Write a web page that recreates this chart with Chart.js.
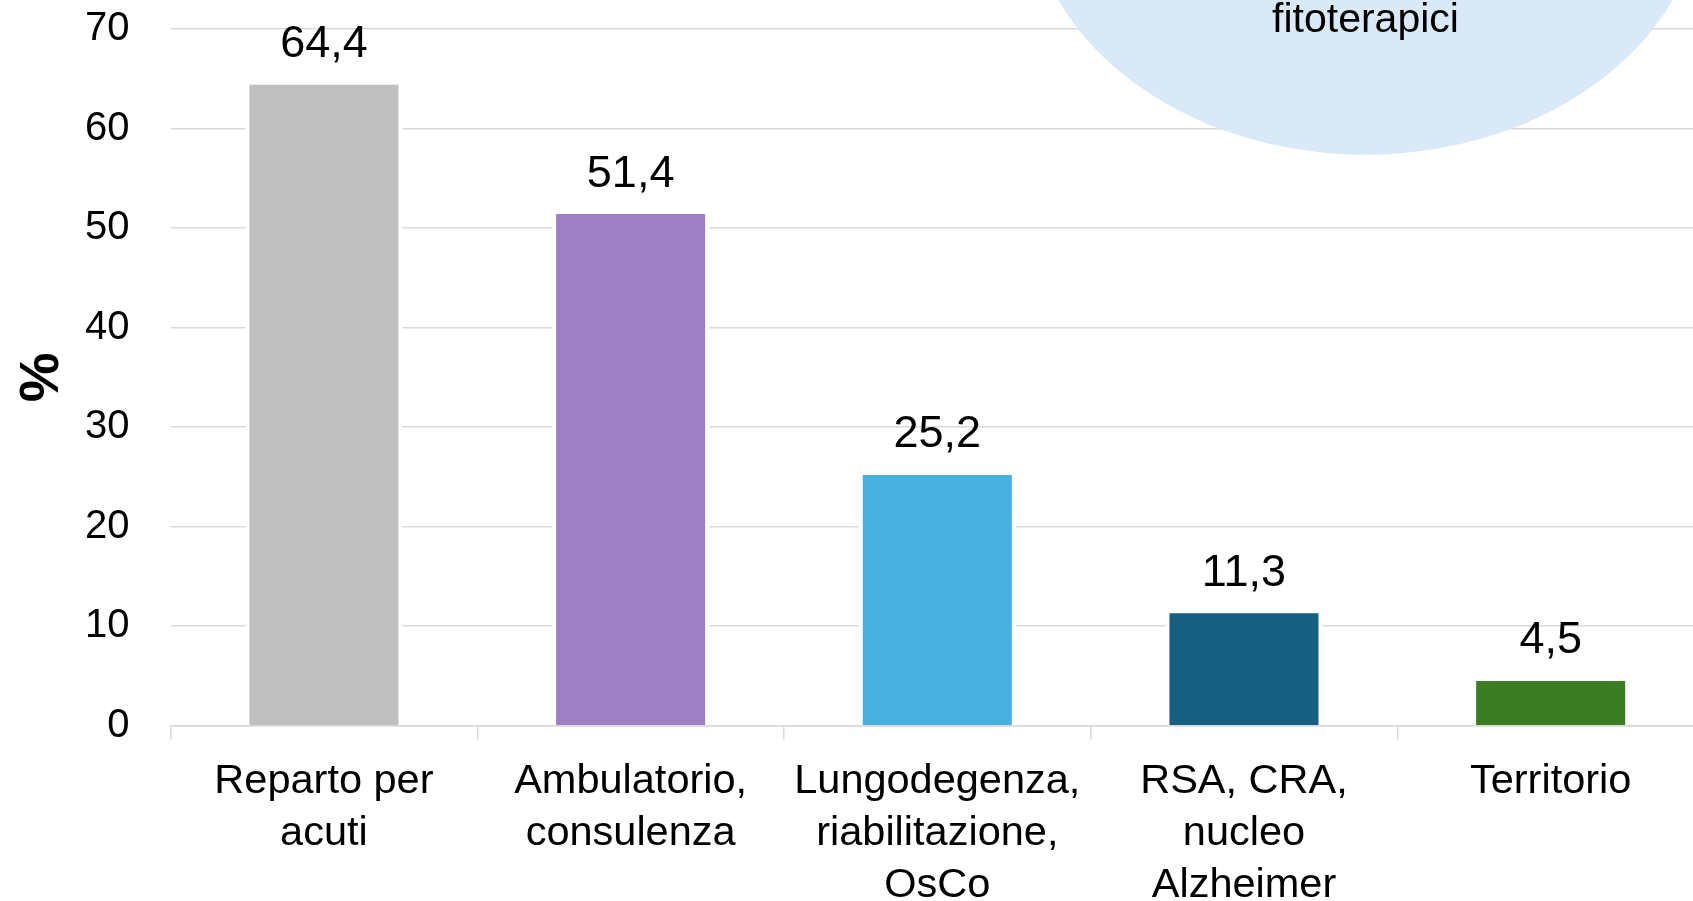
<!DOCTYPE html>
<html>
<head>
<meta charset="utf-8">
<script src="https://cdn.jsdelivr.net/npm/chart.js@4"></script>
<style>
  html, body { margin: 0; padding: 0; overflow: hidden; background: #ffffff; }
  #wrap { position: absolute; left: 0; top: -35.7px; width: 1704px; height: 1000px; }
</style>
</head>
<body>
<div id="wrap"><canvas id="c" width="1704" height="1000"></canvas></div>
<script>
const categories = [
  ["Reparto per", "acuti"],
  ["Ambulatorio,", "consulenza"],
  ["Lungodegenza,", "riabilitazione,", "OsCo"],
  ["RSA, CRA,", "nucleo", "Alzheimer"],
  ["Territorio"]
];
const values = [64.4, 51.4, 25.2, 11.3, 4.5];
const barColors = ["#BFBFBF", "#A080C4", "#47B0E0", "#175F82", "#3B7D23"];
const yAxisTitle = "%";
const calloutText = "fitoterapici";
const yMin = 0, yMax = 70, yStep = 10;

const FONT = "'Liberation Sans', Arial, sans-serif";
const SHIFT = 35.7;      // canvas is shifted up by this amount on the page
const CANVAS_H = 1000;
const AXIS_Y = 726;      // page y of the zero line

const haloPlugin = {
  id: 'halo',
  beforeDatasetsDraw(chart) {
    const ctx = chart.ctx;
    const meta = chart.getDatasetMeta(0);
    ctx.save();
    ctx.fillStyle = '#ffffff';
    meta.data.forEach(el => {
      const p = el.getProps(['x', 'y', 'base', 'width'], true);
      const pad = 4;
      ctx.fillRect(p.x - p.width / 2 - pad, p.y - pad, p.width + 2 * pad, p.base - p.y + pad - 1);
    });
    ctx.restore();
  }
};

const labelPlugin = {
  id: 'valueLabels',
  afterDatasetsDraw(chart) {
    const ctx = chart.ctx;
    const meta = chart.getDatasetMeta(0);
    ctx.save();
    ctx.fillStyle = '#000000';
    ctx.font = "45px " + FONT;
    ctx.textAlign = 'center';
    ctx.textBaseline = 'middle';
    meta.data.forEach((el, i) => {
      const p = el.getProps(['x', 'y'], true);
      ctx.fillText(values[i].toFixed(1).replace('.', ','), p.x, p.y - 40);
    });
    ctx.restore();
  }
};

const calloutPlugin = {
  id: 'callout',
  afterDraw(chart) {
    const ctx = chart.ctx;
    ctx.save();
    ctx.fillStyle = '#DAE9F7';
    ctx.beginPath();
    ctx.ellipse(1365.5, -110 + SHIFT, 338, 265, 0, 0, Math.PI * 2);
    ctx.fill();
    ctx.fillStyle = '#000000';
    ctx.font = "41px " + FONT;
    ctx.textAlign = 'center';
    ctx.textBaseline = 'alphabetic';
    ctx.fillText(calloutText, 1365.5, 32 + SHIFT);
    ctx.restore();
  }
};

new Chart(document.getElementById('c'), {
  type: 'bar',
  data: {
    labels: categories,
    datasets: [{
      data: values,
      backgroundColor: barColors,
      borderWidth: 0,
      barPercentage: 0.486,
      categoryPercentage: 1.0
    }]
  },
  options: {
    responsive: false,
    animation: false,
    devicePixelRatio: 1,
    layout: { padding: { top: 0, right: 0, left: 0, bottom: 0 } },
    plugins: { legend: { display: false }, tooltip: { enabled: false } },
    scales: {
      x: {
        offset: true,
        grid: { offset: true, drawOnChartArea: false, drawTicks: true, tickLength: 14, color: '#D9D9D9', lineWidth: 1.5 },
        border: { display: true, color: '#D9D9D9', width: 1.5 },
        ticks: { color: '#000000', font: { family: FONT, size: 41.5, lineHeight: 1.25 }, padding: 16, maxRotation: 0, autoSkip: false },
        afterFit(scale) { scale.height = CANVAS_H - (AXIS_Y + SHIFT); }
      },
      y: {
        min: yMin, max: yMax,
        ticks: { stepSize: yStep, color: '#000000', font: { family: FONT, size: 40 }, padding: 41 },
        grid: { drawTicks: false, color: '#D9D9D9', lineWidth: 1.5 },
        border: { display: false },
        title: { display: true, text: yAxisTitle, color: '#000000', font: { family: FONT, size: 56, weight: 'bold' }, padding: { top: 9, bottom: 0 } },
        afterFit(scale) { scale.width = 170.6; }
      }
    }
  },
  plugins: [haloPlugin, labelPlugin, calloutPlugin]
});
</script>
</body>
</html>
